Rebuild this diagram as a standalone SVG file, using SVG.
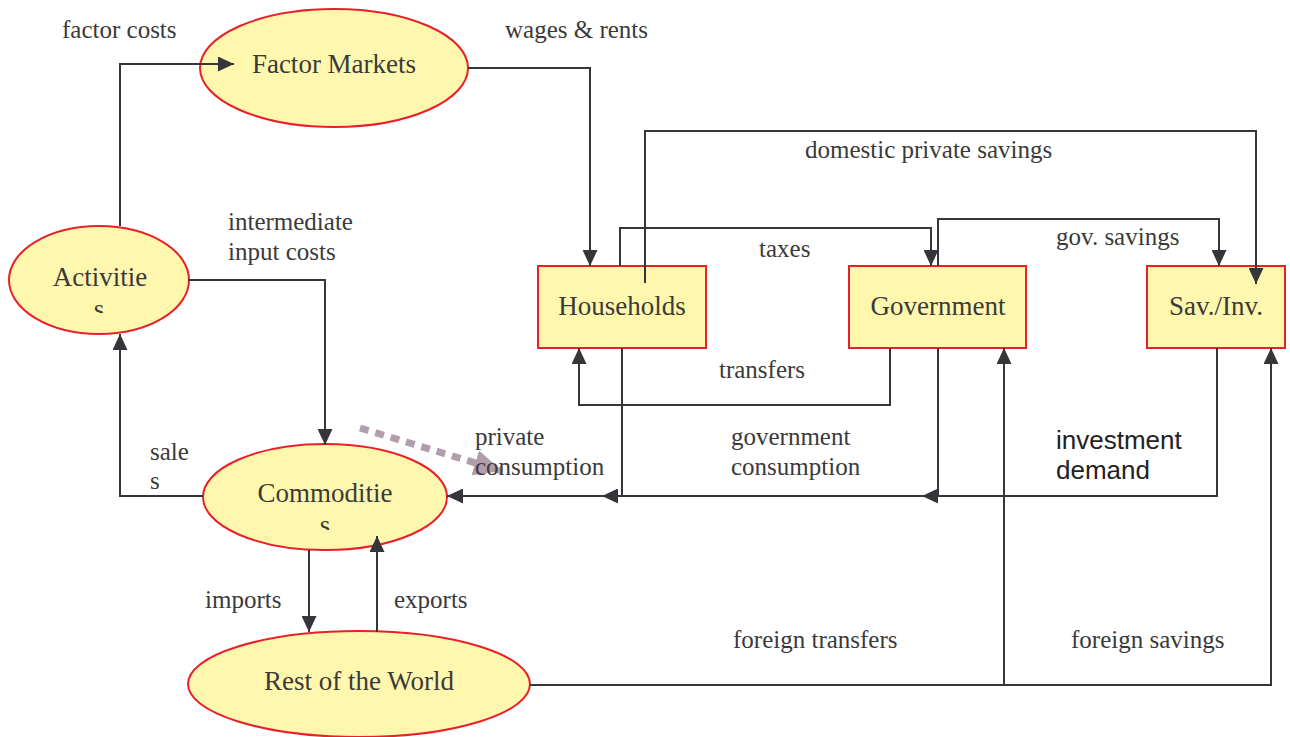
<svg xmlns="http://www.w3.org/2000/svg" width="1290" height="737" viewBox="0 0 1290 737">
<style>
.node{fill:#fff7ae;stroke:#e8202a;stroke-width:2}
.nl{font-family:"Liberation Serif",serif;font-size:27px;fill:#3a3a3a;text-anchor:middle}
.lb{font-family:"Liberation Serif",serif;font-size:25px;fill:#3a3a3a}
.sans{font-family:"Liberation Sans",Arial,sans-serif;font-size:26px;fill:#222}
.cn{fill:none;stroke:#36363a;stroke-width:2;marker-end:url(#ah)}
</style>
<defs>
<marker id="ah" markerUnits="userSpaceOnUse" markerWidth="17" markerHeight="15" refX="16" refY="7.5" orient="auto">
<path d="M0,0 L16,7.5 L0,15 z" fill="#36363a"/>
</marker>
<marker id="ahd" markerUnits="userSpaceOnUse" markerWidth="30" markerHeight="26" refX="28" refY="13" orient="auto">
<path d="M0,0 L28,13 L0,26 z" fill="#b09ead"/>
</marker>
<clipPath id="clipAct"><rect x="0" y="226" width="200" height="87"/></clipPath>
<clipPath id="clipCom"><rect x="200" y="444" width="250" height="86"/></clipPath>
</defs>
<rect width="1290" height="737" fill="#ffffff"/>

<g id="factor-markets">
<ellipse class="node" cx="334" cy="68" rx="134" ry="59"/>
<text class="nl" x="334" y="73">Factor Markets</text>
</g>
<g id="activities">
<ellipse class="node" cx="99" cy="280" rx="90" ry="54"/>
<g clip-path="url(#clipAct)">
<text class="nl" x="100" y="286">Activitie</text>
<text class="nl" x="99" y="318">s</text>
</g>
</g>
<g id="commodities">
<ellipse class="node" cx="325" cy="497" rx="122" ry="53"/>
<g clip-path="url(#clipCom)">
<text class="nl" x="325" y="502">Commoditie</text>
<text class="nl" x="325" y="534">s</text>
</g>
</g>
<g id="rest-of-world">
<ellipse class="node" cx="359" cy="684" rx="171" ry="53"/>
<text class="nl" x="359" y="690">Rest of the World</text>
</g>
<g id="households">
<rect class="node" x="538" y="266" width="168" height="82"/>
<text class="nl" x="622" y="315">Households</text>
</g>
<g id="government">
<rect class="node" x="849" y="266" width="177" height="82"/>
<text class="nl" x="938" y="315">Government</text>
</g>
<g id="sav-inv">
<rect class="node" x="1147" y="266" width="138" height="82"/>
<text class="nl" x="1216" y="315">Sav./Inv.</text>
</g>

<g id="connectors">
<path class="cn" d="M120,226 V64 H234"/>
<path class="cn" d="M468,68 H590 V266"/>
<path class="cn" d="M188,280 H325 V445"/>
<path class="cn" d="M203,496 H120 V334"/>
<path class="cn" d="M309,550 V632"/>
<path class="cn" d="M377,632 V536"/>
<path class="cn" d="M622,348 V496 H447"/>
<path class="cn" d="M938,348 V496 H602"/>
<path class="cn" d="M1217,348 V496 H922"/>
<path class="cn" d="M620,266 V228 H931 V266"/>
<path class="cn" d="M938,266 V219 H1219 V266"/>
<path class="cn" d="M645,283 V131 H1256 V284"/>
<path class="cn" d="M890,348 V405 H579 V348"/>
<path class="cn" d="M530,685 H1271 V348"/>
<path class="cn" d="M1004,685 V348"/>
<path fill="none" stroke="#b09ead" stroke-width="7" stroke-dasharray="9,7" d="M360,428 L502,471" marker-end="url(#ahd)"/>
</g>

<g id="labels">
<text class="lb" x="62" y="38">factor costs</text>
<text class="lb" x="505" y="38">wages &amp; rents</text>
<text class="lb" x="805" y="158">domestic private savings</text>
<text class="lb" x="228" y="230">intermediate</text>
<text class="lb" x="228" y="260">input costs</text>
<text class="lb" x="759" y="257">taxes</text>
<text class="lb" x="1056" y="245">gov. savings</text>
<text class="lb" x="719" y="378">transfers</text>
<text class="lb" x="475" y="445">private</text>
<text class="lb" x="475" y="475">consumption</text>
<text class="lb" x="731" y="445">government</text>
<text class="lb" x="731" y="475">consumption</text>
<text class="sans" x="1056" y="449">investment</text>
<text class="sans" x="1056" y="479">demand</text>
<text class="lb" x="150" y="460">sale</text>
<text class="lb" x="150" y="489">s</text>
<text class="lb" x="205" y="608">imports</text>
<text class="lb" x="394" y="608">exports</text>
<text class="lb" x="733" y="648">foreign transfers</text>
<text class="lb" x="1071" y="648">foreign savings</text>
</g>
</svg>
